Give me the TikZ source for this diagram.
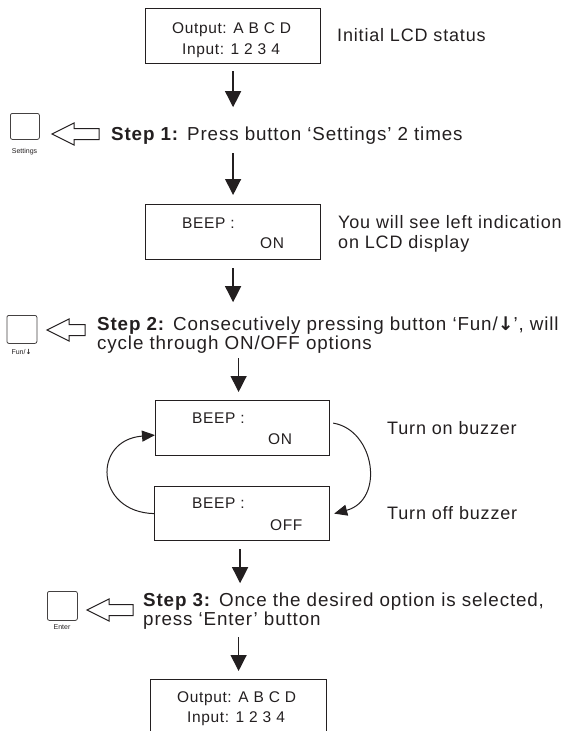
\documentclass[tikz,border=0pt]{standalone}
\usepackage{fontspec}
\setmainfont{Liberation Sans}
\newfontfamily\mainf[LetterSpace=4.6]{Liberation Sans}
\newfontfamily\lcdf[LetterSpace=4]{Liberation Sans}
\newfontfamily\arrf{DejaVu Sans}
\usetikzlibrary{arrows.meta}
\definecolor{ink}{HTML}{231F20}
\newcommand\hollowarr[3]{% tip x, tail x, y
  \draw[hollow] (#1,#3) -- (#1+22,#3-11) -- (#1+22,#3-5.5) -- (#2,#3-5.5) -- (#2,#3+5.5) -- (#1+22,#3+5.5) -- (#1+22,#3+11) -- cycle;}
\newcommand\dnarr{{\arrf\bfseries ↓}}
\begin{document}
\begin{tikzpicture}[x=1pt,y=-1pt,
  lcdbox/.style={draw=ink, line width=1.2pt, minimum width=175pt, minimum height=55pt, inner sep=0, anchor=north west},
  lcdtxt/.style={font=\lcdf\fontsize{15.5}{18}\selectfont, inner sep=0, anchor=base west, text=ink},
  maintxt/.style={font=\mainf\fontsize{18}{20}\selectfont, inner sep=0, anchor=base west, text=ink},
  steptxt/.style={font=\mainf\fontsize{18.8}{20}\selectfont, inner sep=0, anchor=base west, text=ink},
  btn/.style={draw=ink!85, line width=0.8pt, rounded corners=2pt, inner sep=0, anchor=north west},
  btnlbl/.style={font=\fontsize{7}{8}\selectfont, inner sep=0, text=ink},
  arr/.style={draw=ink, line width=1.3pt, -{Triangle[length=16pt,width=16pt]}},
  carr/.style={draw=ink, line width=1pt, -{Triangle[length=13pt,width=11pt]}},
  hollow/.style={draw=ink, line width=1pt, fill=white}]
\useasboundingbox (0,0) rectangle (571,731);

% boxes
\node[lcdbox] (lcd1) at (145,8) {};
\node[lcdbox] (beep) at (145,204) {};
\node[lcdbox, minimum width=174pt] (onbox) at (155,400) {};
\node[lcdbox, minimum width=175pt, minimum height=54pt] (offbox) at (154,486) {};
\node[lcdbox, minimum width=176pt] (final) at (150,679) {};

% LCD texts
\node[lcdtxt] (t1a) at (172,33) {Output: A B C D};
\node[lcdtxt] (t1b) at (182,54) {Input: 1 2 3 4};
\node[lcdtxt] (t2a) at (182,228) {BEEP :};
\node[lcdtxt] (t2b) at (260,248) {ON};
\node[lcdtxt] (t3a) at (192,423) {BEEP :};
\node[lcdtxt] (t3b) at (268,444) {ON};
\node[lcdtxt] (t4a) at (192,508) {BEEP :};
\node[lcdtxt] (t4b) at (270,530) {OFF};
\node[lcdtxt] (t5a) at (177,702) {Output: A B C D};
\node[lcdtxt] (t5b) at (187,722) {Input: 1 2 3 4};

% side texts
\node[maintxt] (init) at (337,41) {Initial LCD status};
\node[maintxt] (see1) at (338,228) {You will see left indication};
\node[maintxt] (see2) at (338,248) {on LCD display};
\node[maintxt] (on) at (387,434) {Turn on buzzer};
\node[maintxt] (off) at (387,519) {Turn off buzzer};

% steps
\node[steptxt] (s1) at (111,140) {\textbf{Step 1:} Press button ‘Settings’ 2 times};
\node[steptxt] (s2a) at (97,330) {\textbf{Step 2:} Consecutively pressing button ‘Fun/\dnarr’, will};
\node[steptxt] (s2b) at (97,349) {cycle through ON/OFF options};
\node[steptxt] (s3a) at (143,606) {\textbf{Step 3:} Once the desired option is selected,};
\node[steptxt] (s3b) at (143,625) {press ‘Enter’ button};

% buttons
\node[btn, minimum width=29pt, minimum height=26pt] (bset) at (10,113) {};
\node[btnlbl] (lset) at (24.5,151.5) {Settings};
\node[btn, minimum width=30pt, minimum height=28pt] (bfun) at (6.5,315) {};
\node[btnlbl] (lfun) at (21.5,352) {Fun/\dnarr};
\node[btn, minimum width=30pt, minimum height=29pt] (bent) at (47,591) {};
\node[btnlbl] (lent) at (62,627) {Enter};

% hollow arrows
\hollowarr{52}{99}{134}
\hollowarr{47}{85}{330}
\hollowarr{87}{133}{610}

% main arrows
\draw[arr] ([yshift=-7pt]lcd1.south) -- ++(0,36);
\draw[arr] ([yshift=51pt]beep.north) -- ([yshift=9pt]beep.north);
\draw[arr] ([yshift=-8pt]beep.south) -- ++(0,34);
\draw[arr] ([xshift=-4pt,yshift=42pt]onbox.north) -- ([xshift=-4pt,yshift=8pt]onbox.north);
\draw[arr] ([xshift=-2pt,yshift=-8pt]offbox.south) -- ++(0,34);
\draw[arr] ([yshift=42pt]final.north) -- ([yshift=8pt]final.north);

% loop
\draw[carr] (offbox.west) .. controls (95,512) and (92,440) .. ([yshift=-7pt]onbox.west);
\draw[carr] ([xshift=3pt,yshift=5pt]onbox.east) .. controls (375,430) and (385,500) .. ([xshift=4pt]offbox.east);
\end{tikzpicture}
\end{document}
